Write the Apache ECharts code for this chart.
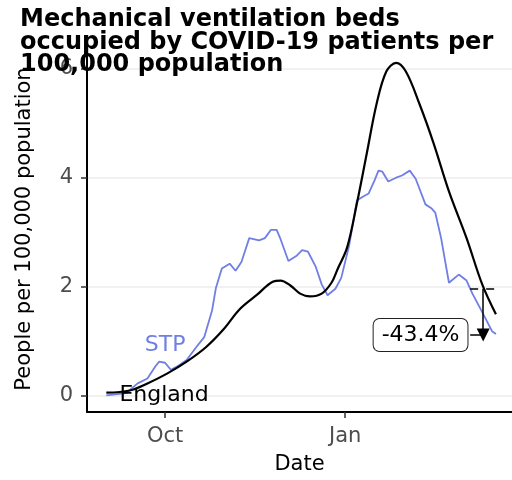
<!DOCTYPE html>
<html>
<head>
<meta charset="utf-8">
<script src="https://cdn.jsdelivr.net/npm/echarts@6/dist/echarts.min.js"></script>
<style>
html,body{margin:0;padding:0;background:#fff;}
#c{width:512px;height:480px;}
</style>
</head>
<body>
<div id="c"></div>
<script>
const titleText = 'Mechanical ventilation beds\noccupied by COVID-19 patients per\n100,000 population';
const yTickValues = [0, 2, 4, 6];
const xTickDates = ['2020-10-01', '2021-01-01'];
const xTickLabels = ['Oct', 'Jan'];

const englandDates = ['2020-09-01','2020-09-13','2020-09-22','2020-10-02','2020-10-12','2020-10-22','2020-10-31','2020-11-08','2020-11-17','2020-11-25','2020-11-29','2020-12-04','2020-12-09','2020-12-14','2020-12-20','2020-12-25','2020-12-28','2021-01-02','2021-01-07','2021-01-12','2021-01-17','2021-01-22','2021-01-27','2021-02-01','2021-02-08','2021-02-15','2021-02-23','2021-03-04','2021-03-12','2021-03-19'];
const englandValues = [0.05,0.09,0.22,0.40,0.62,0.89,1.22,1.58,1.85,2.09,2.11,2.02,1.87,1.82,1.87,2.07,2.31,2.72,3.53,4.44,5.35,5.95,6.11,5.95,5.35,4.65,3.75,2.89,2.04,1.49];

const stpDates = ['2020-09-01','2020-09-11','2020-09-17','2020-09-22','2020-09-26','2020-09-28','2020-10-01','2020-10-04','2020-10-08','2020-10-12','2020-10-17','2020-10-21','2020-10-25','2020-10-27','2020-10-30','2020-11-03','2020-11-06','2020-11-09','2020-11-13','2020-11-18','2020-11-21','2020-11-24','2020-11-27','2020-11-29','2020-12-03','2020-12-07','2020-12-10','2020-12-13','2020-12-17','2020-12-20','2020-12-23','2020-12-27','2020-12-30','2021-01-03','2021-01-07','2021-01-10','2021-01-13','2021-01-16','2021-01-18','2021-01-20','2021-01-23','2021-01-27','2021-01-30','2021-02-03','2021-02-06','2021-02-11','2021-02-14','2021-02-16','2021-02-19','2021-02-23','2021-02-28','2021-03-04','2021-03-07','2021-03-12','2021-03-17','2021-03-19'];
const stpValues = [0.00,0.04,0.22,0.31,0.53,0.62,0.60,0.47,0.55,0.65,0.89,1.07,1.56,1.98,2.33,2.42,2.29,2.45,2.89,2.85,2.89,3.04,3.04,2.87,2.47,2.56,2.67,2.64,2.36,2.04,1.84,1.96,2.16,2.75,3.58,3.65,3.71,3.95,4.13,4.11,3.93,4.00,4.04,4.13,3.98,3.51,3.44,3.36,2.89,2.07,2.22,2.11,1.87,1.53,1.18,1.13];

// annotation
const changeLabel = '-43.4%';
const refValue = 1.96;
const curValue = 1.11;
const annStart = '2021-03-05T20:00:00Z';
const annArrow = '2021-03-12T12:00:00Z';
const annEnd = '2021-03-19T16:00:00Z';
const labelBoxDate = '2021-02-08T12:00:00Z';
const stpLabelPos = ['2020-10-01', 0.93];
const englandLabelPos = ['2020-09-30T12:00:00Z', 0.0];

const xMin = '2020-08-22T03:00:00Z';
const xMax = '2021-03-27T05:00:00Z';
const yMin = -0.305, yMax = 6.42;

const T = s => Date.parse(s.length === 10 ? s + 'T00:00:00Z' : s);
const englandData = englandDates.map((d, i) => [T(d), englandValues[i]]);
const stpData = stpDates.map((d, i) => [T(d), stpValues[i]]);
const xTickVals = xTickDates.map(T);
const FONT = 'DejaVu Sans';
const BLUE = '#6f7fe4';

const chart = echarts.init(document.getElementById('c'), null, {renderer: 'canvas'});
chart.setOption({
  animation: false,
  backgroundColor: '#ffffff',
  title: {
    text: titleText,
    left: 15, top: 4,
    textStyle: {fontFamily: FONT, fontWeight: 'bold', fontSize: 24, lineHeight: 22.5, color: '#000'}
  },
  grid: {left: 87, right: 0, top: 46, bottom: 64, containLabel: false},
  xAxis: {
    type: 'value',
    min: T(xMin), max: T(xMax),
    name: 'Date', nameLocation: 'middle', nameGap: 42,
    nameTextStyle: {fontFamily: FONT, fontSize: 21, color: '#000'},
    axisLine: {show: true, onZero: false, lineStyle: {color: '#000', width: 2}},
    axisTick: {show: true, length: 6, lineStyle: {color: '#333', width: 1.5}, customValues: xTickVals},
    axisLabel: {
      fontFamily: FONT, fontSize: 21, color: '#4d4d4d', margin: 14,
      customValues: xTickVals,
      formatter: v => { const i = xTickVals.indexOf(v); return i >= 0 ? xTickLabels[i] : ''; }
    },
    splitLine: {show: false}
  },
  yAxis: {
    type: 'value',
    min: yMin, max: yMax,
    name: 'People per 100,000 population', nameLocation: 'middle', nameGap: 52,
    nameTextStyle: {fontFamily: FONT, fontSize: 21, color: '#000'},
    axisLine: {show: true, onZero: false, lineStyle: {color: '#000', width: 2}},
    axisTick: {show: true, length: 6, lineStyle: {color: '#333', width: 1.5}, customValues: yTickValues},
    axisLabel: {fontFamily: FONT, fontSize: 21, color: '#4d4d4d', margin: 14, customValues: yTickValues},
    splitLine: {show: true, lineStyle: {color: '#ededed', width: 1.5}}
  },
  series: [
    {
      name: 'STP', type: 'line', data: stpData, showSymbol: false,
      lineStyle: {color: BLUE, width: 1.8}, itemStyle: {color: BLUE}, z: 3,
      markPoint: {
        symbol: 'circle', symbolSize: 0, silent: true,
        data: [{
          coord: [T(stpLabelPos[0]), stpLabelPos[1]],
          label: {show: true, formatter: 'STP', fontFamily: FONT, fontSize: 22, color: BLUE}
        }]
      }
    },
    {
      name: 'England', type: 'line', data: englandData, showSymbol: false, smooth: 0.35,
      lineStyle: {color: '#000', width: 2.2}, itemStyle: {color: '#000'}, z: 4,
      markPoint: {
        symbol: 'circle', symbolSize: 0, silent: true,
        data: [
          {coord: [T(englandLabelPos[0]), englandLabelPos[1]],
           label: {show: true, formatter: 'England', fontFamily: FONT, fontSize: 22, color: '#000'}},
          {coord: [T(labelBoxDate), curValue],
           label: {show: true, formatter: changeLabel, fontFamily: FONT, fontSize: 22, color: '#000',
                   backgroundColor: '#fff', borderColor: '#222', borderWidth: 1, borderRadius: 6,
                   padding: [5, 8], lineHeight: 22}}
        ]
      },
      markLine: {
        silent: true, symbol: 'none', animation: false,
        label: {show: false},
        data: [
          [{coord: [T(annStart), refValue], lineStyle: {color: '#000', width: 1.5, type: [8, 8]}}, {coord: [T(annEnd), refValue]}],
          [{coord: [T(annStart), curValue], lineStyle: {color: '#000', width: 1.5, type: 'solid'}}, {coord: [T(annArrow), curValue]}],
          [{coord: [T(annArrow), refValue], symbol: 'none', lineStyle: {color: '#000', width: 1.5, type: 'solid'}},
           {coord: [T(annArrow), curValue], symbol: 'triangle', symbolSize: [13, 13], symbolRotate: 180}]
        ]
      }
    }
  ]
});
</script>
</body>
</html>
